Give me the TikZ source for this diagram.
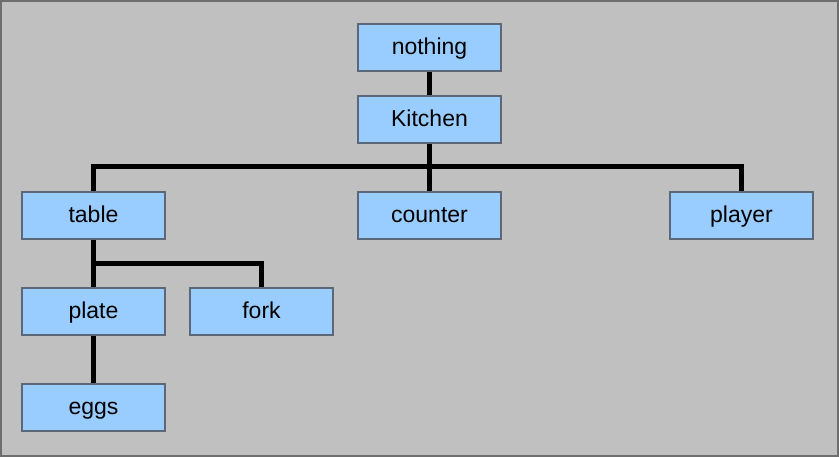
\documentclass[tikz,border=0pt]{standalone}
\usepackage{fontspec}
\setmainfont{Liberation Sans}
\definecolor{bg}{HTML}{C0C0C0}
\definecolor{frame}{HTML}{6E6E6E}
\definecolor{boxfill}{HTML}{99CCFF}
\definecolor{boxline}{HTML}{5A6878}
\begin{document}
\begin{tikzpicture}[x=1pt,y=-1pt,
  item/.style={draw=boxline,line width=1.5pt,fill=boxfill,minimum width=143pt,minimum height=47pt,inner sep=0pt,text height=17pt,text depth=2.5pt,font=\fontsize{23}{27}\selectfont},
  link/.style={line width=5pt,black}]
\fill[bg,draw=frame,line width=2pt] (1,1) rectangle (838,456);
\useasboundingbox (0,0) rectangle (840,457);
\node[item] (nothing) at (429.5,47.5) {nothing};
\node[item] (kitchen) at (429.5,119.5) {Kitchen};
\node[item] (table) at (93.5,215.5) {table};
\node[item] (counter) at (429.5,215.5) {counter};
\node[item] (player) at (741.5,215.5) {player};
\node[item] (plate) at (93.5,311.5) {plate};
\node[item] (fork) at (261.5,311.5) {fork};
\node[item] (eggs) at (93.5,407.5) {eggs};
\coordinate (k1) at (429.5,167);
\coordinate (t1) at (93.5,263);
\draw[link] (nothing.south) -- (kitchen.north);
\draw[link] (kitchen.south) -- (k1);
\draw[link] (counter.north) -- (k1);
\draw[link] (table.north) |- (k1);
\draw[link] (player.north) |- (k1);
\draw[link] (table.south) -- (plate.north);
\draw[link] (fork.north) |- (t1);
\draw[link] (plate.south) -- (eggs.north);
\end{tikzpicture}
\end{document}
